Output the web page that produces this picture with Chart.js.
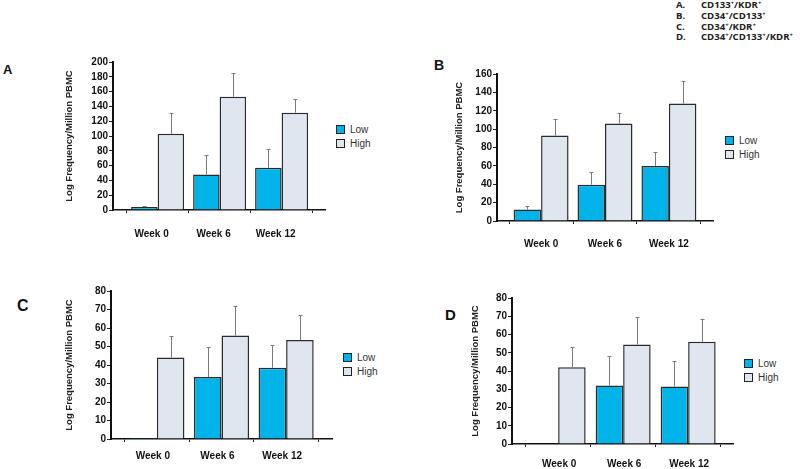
<!DOCTYPE html>
<html>
<head>
<meta charset="utf-8">
<script src="https://cdn.jsdelivr.net/npm/chart.js@4.4.1/dist/chart.umd.min.js"></script>
<style>
  body { margin: 0; width: 800px; height: 469px; background: #fff; position: relative; overflow: hidden; font-family: "Liberation Sans", Arial, sans-serif; }
  canvas { position: absolute; }
  .letter { position: absolute; font-weight: bold; line-height: 1; color: #111; }
  .legend { position: absolute; font-size: 10px; color: #333; }
  .legend .row { height: 14.5px; display: flex; align-items: center; }
  .legend .box { width: 7px; height: 7px; border: 1.5px solid #222; margin-right: 5px; }
  .markers { position: absolute; left: 676px; top: 0; font-family: "Open Sans", sans-serif; font-weight: bold; font-size: 9.6px; line-height: 10.8px; color: #222; }
  .markers .k { display: inline-block; width: 25px; }
  .markers sup { font-size: 6px; vertical-align: 3px; line-height: 0; }
</style>
</head>
<body>
<div class="markers">
  <div><span class="k">A.</span>CD133<sup>+</sup>/KDR<sup>+</sup></div>
  <div><span class="k">B.</span>CD34<sup>+</sup>/CD133<sup>+</sup></div>
  <div><span class="k">C.</span>CD34<sup>+</sup>/KDR<sup>+</sup></div>
  <div><span class="k">D.</span>CD34<sup>+</sup>/CD133<sup>+</sup>/KDR<sup>+</sup></div>
</div>
<script>
const weekLabels = ["Week 0", "Week 6", "Week 12"];
const groupNames = ["Low", "High"];
const groupColors = ["#00b3e8", "#dfe6f0"];
const yTitle = "Log Frequency/Million PBMC";

// A. CD133+/KDR+
const lowA = [4, 48, 57];
const lowErrA = [1, 27, 26];
const highA = [103, 153, 131.5];
const highErrA = [28, 32, 19];
const yMaxA = 200;
const yStepA = 20;

// B. CD34+/CD133+
const lowB = [12.5, 39.5, 60];
const lowErrB = [4, 14, 15.5];
const highB = [93, 106, 128];
const highErrB = [17.5, 11.5, 24];
const yMaxB = 160;
const yStepB = 20;

// C. CD34+/KDR+
const lowC = [0.5, 33.5, 38.5];
const lowErrC = [0, 16.5, 12.5];
const highC = [44, 56, 53.5];
const highErrC = [11.5, 16, 13.5];
const yMaxC = 80;
const yStepC = 10;

// D. CD34+/CD133+/KDR+
const lowD = [0.3, 32, 31.5];
const lowErrD = [0, 16, 14];
const highD = [42, 54.5, 56];
const highErrD = [11, 15, 12.5];
const yMaxD = 80;
const yStepD = 10;

const panels = [
  { name: "A", low: lowA, lowErr: lowErrA, high: highA, highErr: highErrA, yMax: yMaxA, yStep: yStepA,
    area: { left: 113, top: 62, right: 325, bottom: 210 }, xMin: -0.72, xMax: 2.70, groupWidth: 0.855,
    titleGap: 43, labelGap: 15, labelShift: -6,
    letter: { x: 3, y: 63, size: 13 }, legend: { x: 336, y: 122 } },
  { name: "B", low: lowB, lowErr: lowErrB, high: highB, highErr: highErrB, yMax: yMaxB, yStep: yStepB,
    area: { left: 497, top: 74, right: 713, bottom: 221 }, xMin: -0.69, xMax: 2.69, groupWidth: 0.86,
    titleGap: 37, labelGap: 14, labelShift: 0,
    letter: { x: 434, y: 58, size: 14 }, legend: { x: 725, y: 133 } },
  { name: "C", low: lowC, lowErr: lowErrC, high: highC, highErr: highErrC, yMax: yMaxC, yStep: yStepC,
    area: { left: 111, top: 291, right: 332, bottom: 439 }, xMin: -0.71, xMax: 2.71, groupWidth: 0.853,
    titleGap: 41, labelGap: 8, labelShift: -4,
    letter: { x: 17, y: 298, size: 16 }, legend: { x: 343, y: 350 } },
  { name: "D", low: lowD, lowErr: lowErrD, high: highD, highErr: highErrD, yMax: yMaxD, yStep: yStepD,
    area: { left: 512, top: 298, right: 733, bottom: 444 }, xMin: -0.71, xMax: 2.69, groupWidth: 0.846,
    titleGap: 36, labelGap: 11, labelShift: 1,
    letter: { x: 445, y: 307, size: 15 }, legend: { x: 744, y: 356 } }
];

const errorBars = {
  id: "errorBars",
  afterDatasetsDraw(chart) {
    const { ctx } = chart;
    const yScale = chart.scales.y;
    ctx.save();
    ctx.strokeStyle = "#7a7a7a";
    ctx.lineWidth = 1;
    chart.data.datasets.forEach((dataset, i) => {
      chart.getDatasetMeta(i).data.forEach((bar, j) => {
        const err = dataset.errors[j];
        if (!err) {
          return;
        }
        const top = Math.round(yScale.getPixelForValue(dataset.data[j].y + err)) + 0.5;
        const x = Math.round(bar.x) + 0.5;
        ctx.beginPath();
        ctx.moveTo(x, bar.y);
        ctx.lineTo(x, top);
        ctx.moveTo(x - 2, top);
        ctx.lineTo(x + 2, top);
        ctx.stroke();
      });
    });
    ctx.restore();
  }
};

function addLetter(p) {
  const div = document.createElement("div");
  div.className = "letter";
  div.textContent = p.name;
  div.style.left = p.letter.x + "px";
  div.style.top = p.letter.y + "px";
  div.style.fontSize = p.letter.size + "px";
  document.body.appendChild(div);
}

function addLegend(p) {
  const legend = document.createElement("div");
  legend.className = "legend";
  legend.style.left = p.legend.x + "px";
  legend.style.top = p.legend.y + "px";
  groupNames.forEach((name, i) => {
    const row = document.createElement("div");
    row.className = "row";
    const box = document.createElement("span");
    box.className = "box";
    box.style.background = groupColors[i];
    row.appendChild(box);
    row.appendChild(document.createTextNode(name));
    legend.appendChild(row);
  });
  document.body.appendChild(legend);
}

function buildPanel(p) {
  const padTop = 8;
  const padRight = 2;
  const axisHeight = 40;
  const yWidth = Math.round(p.titleGap + 5.7);
  const left = p.area.left - yWidth;
  const top = p.area.top - padTop;
  const width = p.area.right - left + padRight;
  const height = p.area.bottom - top + axisHeight;

  const canvas = document.createElement("canvas");
  canvas.width = width;
  canvas.height = height;
  canvas.style.left = left + "px";
  canvas.style.top = top + "px";
  canvas.style.width = width + "px";
  canvas.style.height = height + "px";
  document.body.appendChild(canvas);

  const series = [[p.low, p.lowErr], [p.high, p.highErr]];

  new Chart(canvas, {
    type: "bar",
    data: {
      datasets: series.map(([values, errors], i) => ({
        label: groupNames[i],
        data: values.map((v, k) => ({ x: k, y: v })),
        errors: errors,
        backgroundColor: groupColors[i],
        borderColor: "#2b2b2b",
        borderWidth: 1.5,
        barPercentage: 1,
        categoryPercentage: p.groupWidth
      }))
    },
    options: {
      responsive: false,
      animation: false,
      devicePixelRatio: 1,
      layout: { padding: { top: padTop, right: padRight, left: 0, bottom: 0 } },
      plugins: { legend: { display: false }, tooltip: { enabled: false } },
      scales: {
        x: {
          type: "linear",
          min: p.xMin,
          max: p.xMax,
          offset: false,
          afterFit: scale => { scale.height = axisHeight; },
          afterBuildTicks: scale => { scale.ticks = weekLabels.map((_, k) => ({ value: k })); },
          grid: { drawOnChartArea: false, tickLength: 3, color: "#222", lineWidth: 1 },
          border: { color: "#111", width: 1.5 },
          ticks: {
            autoSkip: false,
            maxRotation: 0,
            padding: p.labelGap,
            labelOffset: p.labelShift,
            color: "#111",
            font: { family: "'Liberation Sans', Arial", size: 10, weight: "bold" },
            callback: value => weekLabels[value]
          }
        },
        y: {
          min: 0,
          max: p.yMax,
          afterFit: scale => { scale.width = yWidth; },
          grid: { drawOnChartArea: false, tickLength: 4, color: "#222", lineWidth: 1 },
          border: { color: "#111", width: 2 },
          ticks: {
            stepSize: p.yStep,
            autoSkip: false,
            padding: 1,
            color: "#111",
            font: { family: "'Liberation Sans', Arial", size: 10, weight: "bold" }
          },
          title: {
            display: true,
            text: yTitle,
            padding: 0,
            color: "#222",
            font: { family: "'Liberation Sans', Arial", size: 9.5, weight: "bold" }
          }
        }
      }
    },
    plugins: [errorBars]
  });

  addLetter(p);
  addLegend(p);
}

panels.forEach(buildPanel);
</script>
</body>
</html>
